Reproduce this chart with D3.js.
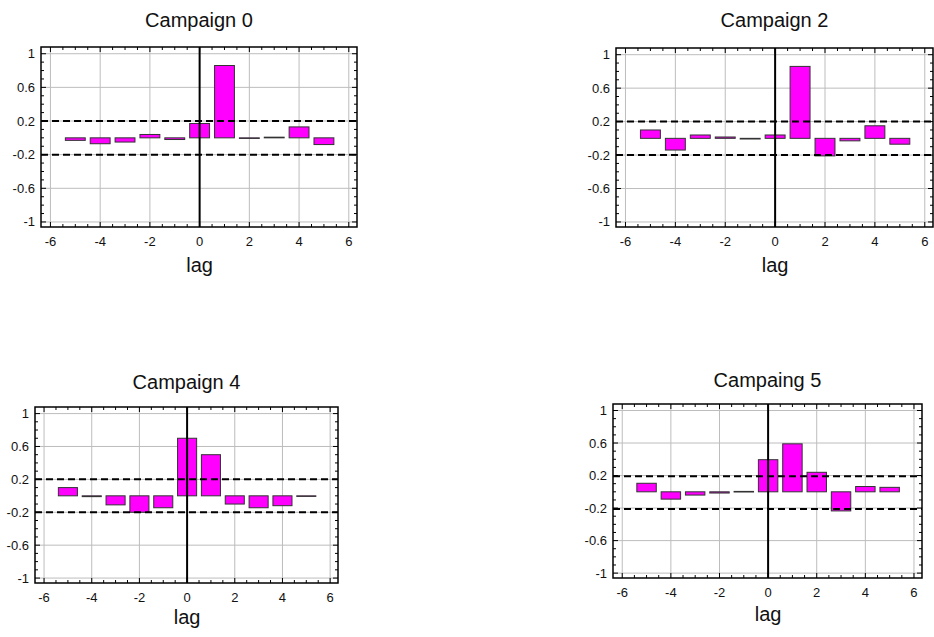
<!DOCTYPE html>
<html>
<head>
<meta charset="utf-8">
<script src="https://cdn.jsdelivr.net/npm/d3@7"></script>
<style>
  body { margin: 0; background: #fff; }
  svg { display: block; font-family: "Liberation Sans", Arial, sans-serif; }
</style>
</head>
<body>
<svg id="chart" width="934" height="637"></svg>
<script>
// lags shared by all four panels
var lags = [-5, -4, -3, -2, -1, 0, 1, 2, 3, 4, 5];

var titles = ['Campaign 0', 'Campaign 2', 'Campaign 4', 'Campaing 5'];

// cross-correlation values per lag
var ccf0 = [-0.03, -0.07, -0.05, 0.04, -0.02, 0.17, 0.86, -0.006, 0.008, 0.13, -0.08];
var ccf2 = [0.10, -0.14, 0.04, 0.016, -0.008, 0.04, 0.86, -0.21, -0.03, 0.15, -0.07];
var ccf4 = [0.10, -0.01, -0.11, -0.20, -0.145, 0.70, 0.50, -0.10, -0.145, -0.12, -0.004];
var ccf5 = [0.105, -0.09, -0.04, -0.015, 0.005, 0.395, 0.59, 0.24, -0.235, 0.065, 0.055];

// dashed significance bounds [upper, lower]
var bounds0 = [0.2, -0.2];
var bounds2 = [0.2, -0.2];
var bounds4 = [0.2, -0.2];
var bounds5 = [0.19, -0.21];

var xTicks = [-6, -4, -2, 0, 2, 4, 6];
var yTicks = [1, 0.6, 0.2, -0.2, -0.6, -1];

var series = [ccf0, ccf2, ccf4, ccf5];
var bounds = [bounds0, bounds2, bounds4, bounds5];

// frame box of each panel: left, top, right, bottom
var frames = [
  { l: 41, t: 47, r: 357, b: 227, titleY: 27, lagY: 272 },
  { l: 616, t: 48, r: 933, b: 227, titleY: 27, lagY: 272 },
  { l: 35, t: 407, r: 338, b: 583, titleY: 389, lagY: 624 },
  { l: 613, t: 404, r: 922, b: 578, titleY: 387, lagY: 621 }
];

var svg = d3.select('#chart');

frames.forEach(function (f, i) {
  drawPanel(f, titles[i], series[i], bounds[i]);
});

function drawPanel(f, title, values, bnd) {
  var x = d3.scaleLinear().domain([-6.38, 6.33]).range([f.l, f.r]);
  var y = d3.scaleLinear().domain([-1.06, 1.08]).range([f.b, f.t]);
  var g = svg.append('g');
  var cx = (f.l + f.r) / 2;

  // grid
  g.selectAll('.gx').data(xTicks).enter().append('line')
    .attr('x1', x).attr('x2', x).attr('y1', f.t).attr('y2', f.b)
    .attr('stroke', '#bdbdbd').attr('stroke-width', 1);
  g.selectAll('.gy').data(yTicks).enter().append('line')
    .attr('y1', y).attr('y2', y).attr('x1', f.l).attr('x2', f.r)
    .attr('stroke', '#bdbdbd').attr('stroke-width', 1);

  // bars
  var bw = x(0.8) - x(0);
  g.selectAll('.bar').data(values).enter().append('rect')
    .attr('x', function (d, i) { return x(lags[i]) - bw / 2; })
    .attr('y', function (d) { return y(Math.max(d, 0)); })
    .attr('width', bw)
    .attr('height', function (d) { return Math.max(Math.abs(y(d) - y(0)), 0.6); })
    .attr('fill', '#ff00ff')
    .attr('stroke', '#333')
    .attr('stroke-width', 1);

  // significance bounds
  g.selectAll('.bnd').data(bnd).enter().append('line')
    .attr('x1', f.l).attr('x2', f.r)
    .attr('y1', y).attr('y2', y)
    .attr('stroke', '#000').attr('stroke-width', 2)
    .attr('stroke-dasharray', '7,4');

  // zero lag line
  g.append('line')
    .attr('x1', x(0)).attr('x2', x(0)).attr('y1', f.t).attr('y2', f.b)
    .attr('stroke', '#000').attr('stroke-width', 2);

  // inward ticks on all four sides
  var xMinor = d3.range(-6, 6.01, 0.5);
  var yMinor = d3.range(-1, 1.01, 0.1);
  var tk = g.append('g').attr('stroke', '#000').attr('stroke-width', 1);
  xMinor.forEach(function (v) {
    var len = xTicks.indexOf(v) >= 0 ? 5 : 3;
    tk.append('line').attr('x1', x(v)).attr('x2', x(v)).attr('y1', f.b).attr('y2', f.b - len);
    tk.append('line').attr('x1', x(v)).attr('x2', x(v)).attr('y1', f.t).attr('y2', f.t + len);
  });
  yMinor.forEach(function (v) {
    var major = yTicks.some(function (t) { return Math.abs(t - v) < 1e-6; });
    var len = major ? 5 : 3;
    tk.append('line').attr('y1', y(v)).attr('y2', y(v)).attr('x1', f.l).attr('x2', f.l + len);
    tk.append('line').attr('y1', y(v)).attr('y2', y(v)).attr('x1', f.r).attr('x2', f.r - len);
  });

  // frame
  g.append('rect')
    .attr('x', f.l).attr('y', f.t)
    .attr('width', f.r - f.l).attr('height', f.b - f.t)
    .attr('fill', 'none').attr('stroke', '#000').attr('stroke-width', 1.5);

  // tick labels
  g.selectAll('.xl').data(xTicks).enter().append('text')
    .attr('x', x).attr('y', f.b + 19)
    .attr('text-anchor', 'middle').attr('font-size', 13).attr('fill', '#111')
    .text(function (d) { return d; });
  g.selectAll('.yl').data(yTicks).enter().append('text')
    .attr('x', f.l - 6).attr('y', function (d) { return y(d) + 4.5; })
    .attr('text-anchor', 'end').attr('font-size', 13).attr('fill', '#111')
    .text(function (d) { return d; });

  // title and axis label
  g.append('text')
    .attr('x', cx).attr('y', f.titleY)
    .attr('text-anchor', 'middle').attr('font-size', 20).attr('fill', '#111')
    .text(title);
  g.append('text')
    .attr('x', x(0)).attr('y', f.lagY)
    .attr('text-anchor', 'middle').attr('font-size', 20).attr('fill', '#111')
    .text('lag');
}
</script>
</body>
</html>
